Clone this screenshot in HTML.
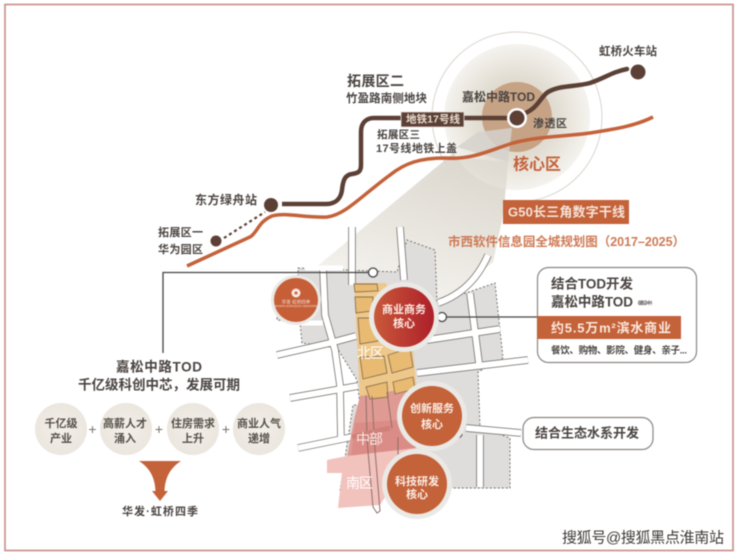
<!DOCTYPE html>
<html><head><meta charset="utf-8"><style>
html,body{margin:0;padding:0;background:#fff;width:740px;height:555px;overflow:hidden}
svg{display:block;filter:blur(.5px)}
text{font-family:"Liberation Sans","Noto Sans CJK SC",sans-serif;fill:#4a4441;dominant-baseline:central}
.b{font-weight:700}
.r{fill:none;stroke:#6e6a66;stroke-linejoin:round}
.w{fill:none;stroke:#fff;stroke-linejoin:round}
.y{fill:#e8ba72;stroke:#8b7350;stroke-width:.9}
.c{fill:#fbeee6;font-weight:700;text-anchor:middle}
.t{text-anchor:middle;font-weight:700;font-size:11px;fill:#565048}
.p{fill:#77726c;font-size:14px;text-anchor:middle}
</style></head><body>
<svg width="740" height="555" viewBox="0 0 740 555" xmlns="http://www.w3.org/2000/svg">
<defs>
<radialGradient id="g1"><stop offset="0" stop-color="#d6cfc1"/><stop offset=".55" stop-color="#e2ddd2"/><stop offset="1" stop-color="#f5f3ef"/></radialGradient>
<linearGradient id="g2" x1="0.7" y1="0" x2="0.3" y2="1"><stop offset="0" stop-color="#dcd8cf"/><stop offset="1" stop-color="#f7f5f1"/></linearGradient>
<linearGradient id="g3"><stop offset="0" stop-color="#c9593a"/><stop offset="1" stop-color="#ae1f2a"/></linearGradient>
<radialGradient id="g4"><stop offset="0" stop-color="#f3f0ea"/><stop offset="1" stop-color="#ebe6de"/></radialGradient>
</defs>
<rect x="0" y="0" width="740" height="555" fill="#fff"/>
<rect x="5" y="4.500" width="728" height="546" fill="#fff" stroke="#c9928c" stroke-width="1.700"/>

<!-- core rings -->
<polygon points="457,150 508,162 502,220 493,262 440,305 330,300 315,268" fill="url(#g2)"/>
<circle cx="517" cy="117" r="85" fill="none" stroke="#d9d5ce" stroke-width="1"/>
<circle cx="517" cy="117" r="73" fill="url(#g1)"/>
<circle cx="517" cy="117" r="35" fill="#c7a385"/>
<polygon points="478,132 457,147 508,162 512,128" fill="#d5d2cd" opacity=".85"/>
<polygon points="457,157 508,162 505,200 502,220 493,262 440,305 330,300 315,268" fill="url(#g2)" opacity=".75"/>

<!-- map ground -->
<polygon points="298,268 397,272 407,240 435,250 437,303 495,283 503,358 478,372 480,427 510,438 510,488 443,488 340,491 353,405 360,405 357,380 337,348 302,343 300,323 277,320 277,300 298,300" fill="#dedddb" stroke="#77736e" stroke-width="1" stroke-dasharray="2 2"/>

<!-- roads -->
<g>
<path class="r" stroke-width="7.500" d="M352,227V285M400,227L404,280M323,268L325,315L335,350L340,385L341,442M277,355L330,343L356,336M290,398L358,386M298,448L352,437M417,373L528,360M427,340L500,329M470,293L479,363M438,303C455,297 475,285 488,255M466,428L521,433M480,435V487"/>
<path class="w" stroke-width="6" d="M352,227V285M400,227L404,280M323,268L325,315L335,350L340,385L341,442M277,355L330,343L356,336M290,398L358,386M298,448L352,437M417,373L528,360M427,340L500,329M470,293L479,363M438,303C455,297 475,285 488,255M466,428L521,433M480,435V487"/>
<path class="w" stroke-width="5" d="M305,268H343M300,323H323"/>
</g>

<!-- zones -->
<polygon points="354,283 386,283 413,350 417,392 360,398" fill="#eec78a"/>
<polygon points="360,396 413,388 416,448 347,457 354,420" fill="#e09a94"/>
<polygon points="355,423 398,420 416,448 351,457" fill="#db8c86"/>
<polygon points="327,460 347,456 416,448 380,505 338,508 342,473 327,473" fill="#f2c2bd"/>
<g>
<polygon class="y" points="354,284 377,284 378,291 355,292"/>
<polygon class="y" points="355,297 373,297 372,311 356,313"/>
<polygon class="y" points="358,318 372,318 378,341 360,344"/>
<polygon class="y" points="360,357 384,356 387,373 363,379"/>
<polygon class="y" points="388,355 410,348 413,367 392,373"/>
<polygon class="y" points="366,387 387,382 388,397 370,399"/>
<polygon class="y" points="393,382 413,377 415,389 395,394"/>
</g>
<path d="M366,396L367,440L373,507L377,513L380,511L375,450L372,396M387,392L392,428M398,437V456" fill="none" stroke="#8f6f68" stroke-width="1"/>
<path d="M352,437L390,428" fill="none" stroke="#cf8179" stroke-width="5"/>

<!-- metro -->
<path d="M282,204H326C336,204 341,198 342,190C343,180 345,175 352,174C358,173 361,172 361,165V132C361,123 366,118 374,118H517" fill="none" stroke="#5c4036" stroke-width="4.500"/>
<path d="M520,115C538,110 540,97 548,92C560,85 575,87 590,83C605,78 612,72 627,69" fill="none" stroke="#5c4036" stroke-width="4.500" stroke-linecap="round"/>
<circle cx="517" cy="118" r="10" fill="#fff"/><circle cx="517" cy="118" r="7.500" fill="#5c4036"/>
<circle cx="638" cy="72" r="7.500" fill="#5c4036"/>
<circle cx="271" cy="205" r="7" fill="#5c4036"/>
<circle cx="216" cy="241" r="5.500" fill="#5c4036"/>
<path d="M224,238L265,212" fill="none" stroke="#5c4036" stroke-width="2.200" stroke-dasharray="3 3"/>
<path d="M187,266L250,237C258,232 258,222 272,216C285,212 305,218 327,217C345,215 360,197 390,175C405,163 420,158 445,158C473,160 490,150 513,143C540,136 570,136 590,133C615,129 635,126 653,117" fill="none" stroke="#c4623a" stroke-width="3.500"/>

<!-- leader lines -->
<path d="M163,353V272.500H368" fill="none" stroke="#444" stroke-width="1.300"/>
<circle cx="373" cy="272.500" r="4.500" fill="#fff" stroke="#444" stroke-width="1.300"/>
<path d="M446,317H538" stroke="#444" stroke-width="1.300"/>
<circle cx="442" cy="317" r="4.500" fill="#fff" stroke="#444" stroke-width="1.300"/>
<path d="M462,434a5,5 0 0,1 -6,4" fill="none" stroke="#444" stroke-width="1.200"/>

<!-- circles -->
<circle cx="296" cy="300" r="25" fill="#ebe9e5"/><circle cx="296" cy="300" r="22" fill="#c65f38"/>
<circle cx="296" cy="293" r="4.500" fill="#fff" opacity=".85"/><circle cx="296" cy="293" r="1.500" fill="#c65f38"/>
<text x="296" y="302" text-anchor="middle" style="fill:#f6e0d4;font-size:4.500px">华发·虹桥四季</text>
<text x="296" y="306" text-anchor="middle" style="fill:#f6e0d4;font-size:3px">HUAFA HONGQIAO SEASONS</text>
<circle cx="404" cy="317" r="35" fill="#ebe9e5"/><circle cx="404" cy="317" r="30" fill="url(#g3)"/>
<text class="c" x="404" y="310" font-size="11">商业商务</text><text class="c" x="404" y="324" font-size="11">核心</text>
<circle cx="432" cy="416" r="35" fill="#ebe9e5"/><circle cx="432" cy="416" r="30" fill="#c4623a"/>
<text class="c" x="432" y="409" font-size="11">创新服务</text><text class="c" x="432" y="425" font-size="11">核心</text>
<circle cx="417" cy="484" r="35" fill="#ebe9e5"/><circle cx="417" cy="484" r="30" fill="#c4623a"/>
<text class="c" x="417" y="482" font-size="11">科技研发</text><text class="c" x="417" y="495" font-size="11">核心</text>

<!-- zone labels -->
<text x="357" y="353" font-size="14" textLength="27" style="fill:#fff">北区</text>
<text x="356" y="439" font-size="14" textLength="27" style="fill:#fbe9e5">中部</text>
<text x="346" y="483" font-size="14" textLength="27" style="fill:#fff">南区</text>

<!-- top labels -->
<rect x="401" y="112" width="63" height="15" fill="#5c4036" stroke="#e8dfd6" stroke-width=".8"/>
<text x="406" y="119.500" font-size="10.500" class="b" textLength="54" style="fill:#eadccf">地铁17号线</text>
<text x="599" y="52" font-size="11.500" class="b" textLength="58">虹桥火车站</text>
<text x="347" y="81" font-size="14" class="b" textLength="57">拓展区二</text>
<text x="346" y="99" font-size="11.500" class="b" textLength="81">竹盈路南侧地块</text>
<text x="377" y="135" font-size="10.500" class="b" textLength="43">拓展区三</text>
<text x="376" y="149" font-size="11" class="b" textLength="81">17号线地铁上盖</text>
<text x="462" y="97" font-size="12" class="b" textLength="73">嘉松中路TOD</text>
<text x="533" y="124" font-size="11" class="b" textLength="34">渗透区</text>
<text x="513" y="165" font-size="16" class="b" textLength="48" style="fill:#c4623a">核心区</text>
<rect x="503" y="200" width="126" height="24" fill="#c4623a"/>
<text x="508" y="212" font-size="13" class="b" textLength="117" style="fill:#f5e3d8">G50长三角数字干线</text>
<text x="448" y="242" font-size="12.500" class="b" textLength="237" style="fill:#cf7a55">市西软件信息园全城规划图（2017–2025）</text>
<text x="195" y="200" font-size="12" class="b" textLength="62">东方绿舟站</text>
<text x="158" y="233" font-size="11" class="b" textLength="45">拓展区一</text>
<text x="158" y="250" font-size="11" class="b" textLength="45">华为园区</text>

<!-- right boxes -->
<rect x="537.500" y="267.500" width="159" height="95" rx="11" fill="#fff" stroke="#8a8784" stroke-width="1.200"/>
<text x="551" y="284" font-size="13.500" class="b" textLength="82">结合TOD开发</text>
<text x="551" y="302" font-size="13.500" class="b" textLength="82">嘉松中路TOD</text>
<text x="635" y="303" font-size="4.500" class="b" textLength="20">（建设中）</text>
<rect x="537" y="316" width="144" height="23" fill="#c4623a"/>
<text x="551" y="328" font-size="13" class="b" textLength="120" style="fill:#fbe9dd">约5.5万m²滨水商业</text>
<text x="551" y="351" font-size="9.500" class="b" textLength="136">餐饮、购物、影院、健身、亲子...</text>
<rect x="523" y="417.500" width="130" height="32" rx="11" fill="#fff" stroke="#8a8784" stroke-width="1.200"/>
<text x="535" y="433" font-size="13" class="b" textLength="104">结合生态水系开发</text>

<!-- left panel -->
<text x="116" y="367" font-size="13.500" class="b" textLength="86">嘉松中路TOD</text>
<text x="78" y="385" font-size="13.500" class="b" textLength="162">千亿级科创中芯，发展可期</text>
<circle cx="61" cy="429" r="26" fill="url(#g4)"/>
<circle cx="126" cy="429" r="26" fill="url(#g4)"/>
<circle cx="193" cy="429" r="26" fill="url(#g4)"/>
<circle cx="259" cy="429" r="26" fill="url(#g4)"/>
<text class="t" x="61" y="424">千亿级</text><text class="t" x="61" y="439">产业</text>
<text class="t" x="125" y="424">高薪人才</text><text class="t" x="125" y="439">涌入</text>
<text class="t" x="193" y="424">住房需求</text><text class="t" x="193" y="439">上升</text>
<text class="t" x="259" y="424">商业人气</text><text class="t" x="259" y="439">递增</text>
<text class="p" x="92.500" y="429">+</text><text class="p" x="159" y="429">+</text><text class="p" x="226" y="429">+</text>
<path d="M139,461H181C170,468 165,478 164.500,491H168L160,501L152,491H155.500C155,478 150,468 139,461Z" fill="#c4623a"/>
<text x="122" y="512" font-size="11" class="b" textLength="76">华发·虹桥四季</text>

<!-- watermark -->
<text x="562" y="538" font-size="15" textLength="162" style="fill:#3d3936;stroke:#fff;stroke-width:2.500px;paint-order:stroke">搜狐号@搜狐黑点淮南站</text>
</svg>
</body></html>
